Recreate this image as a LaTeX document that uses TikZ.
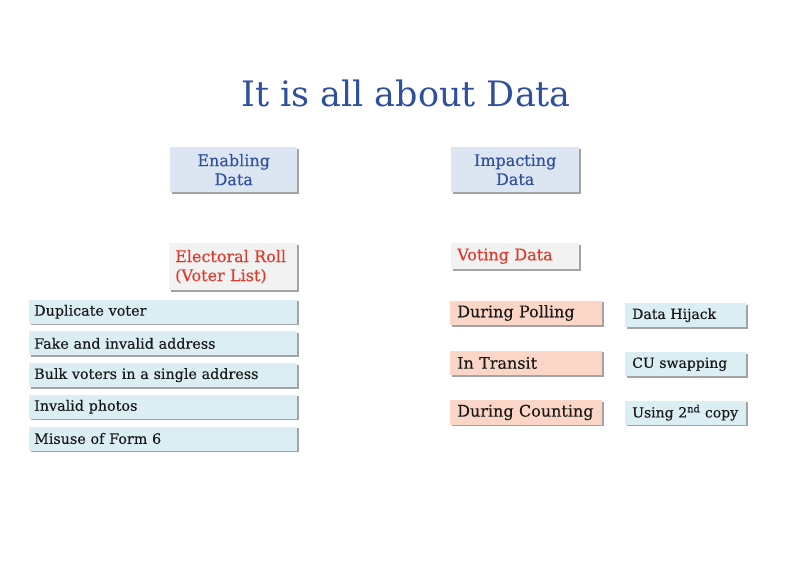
\documentclass[tikz,border=0pt]{standalone}
\usepackage{fontspec}
\setmainfont{DejaVu Serif}
\newfontfamily\cardfont[FakeBold=0.25]{DejaVu Serif}
\usetikzlibrary{shadows}
\definecolor{titleblue}{HTML}{2F4F9F}
\definecolor{headfill}{HTML}{DCE6F2}
\definecolor{listfill}{HTML}{DAEEF3}
\definecolor{rollfill}{HTML}{F2F2F2}
\definecolor{rollred}{HTML}{E2382A}
\definecolor{phasefill}{HTML}{FBD5C5}

\tikzset{
  card/.style={rectangle, anchor=north west, inner xsep=6pt, inner ysep=0pt,
    drop shadow={shadow xshift=1.6pt, shadow yshift=-1.6pt, fill=black!55, opacity=.65}},
  head/.style={card, fill=headfill, text=titleblue, text width=115pt, minimum height=45pt,
    align=center, font=\cardfont\fontsize{16}{19}\selectfont},
  roll/.style={card, fill=rollfill, text=rollred, text width=116pt, align=left,
    font=\cardfont\fontsize{16}{19}\selectfont},
  issue/.style={card, fill=listfill, inner xsep=5pt, text width=258pt, minimum height=24pt,
    align=left, text=black!90, font=\cardfont\fontsize{14.3}{17}\selectfont},
  phase/.style={card, fill=phasefill, inner xsep=7pt, text width=138pt, minimum height=24.5pt,
    align=left, text=black!90, font=\cardfont\fontsize{16}{19}\selectfont},
  attack/.style={card, fill=listfill, inner xsep=7pt, text width=107pt, minimum height=24pt,
    align=left, text=black!90, font=\cardfont\fontsize{14}{17}\selectfont},
}

\begin{document}
\begin{tikzpicture}[x=1pt, y=-1pt]
 \fill[white] (0,0) rectangle (809,561);
 \useasboundingbox (0,0) rectangle (809,561);
 \node (title) [anchor=base, text=titleblue, font=\fontsize{35}{40}\selectfont] at (406,107) {It is all about Data};
 % the two columns
 \node (enabling) [head] at (170,147) {Enabling\\Data};
 \node (impacting) [head, text width=116pt] at (451,147) {Impacting\\Data};
 \node (roll) [roll, minimum height=47pt] at (169,243) {Electoral Roll\\(Voter List)};
 \node (voting) [roll, minimum height=26pt] at (451,243) {Voting Data};
 % electoral roll problems
 \node (dup) [issue] at (29,299.5) {Duplicate voter};
 \node (fake) [issue] at (29,331.2) {Fake and invalid address};
 \node (bulk) [issue] at (29,362.9) {Bulk voters in a single address};
 \node (photo) [issue] at (29,394.6) {Invalid photos};
 \node (form) [issue] at (29,426.3) {Misuse of Form 6};
 % voting data phases and attacks
 \node (polling) [phase] at (450,300.5) {During Polling};
 \node (transit) [phase] at (450,350.5) {In Transit};
 \node (counting) [phase] at (450,400) {During Counting};
 \node (hijack) [attack] at (625,303) {Data Hijack};
 \node (swap) [attack] at (625,352) {CU swapping};
 \node (copy) [attack] at (625,400.5) {\mbox{Using 2\textsuperscript{nd} copy}};
\end{tikzpicture}
\end{document}
